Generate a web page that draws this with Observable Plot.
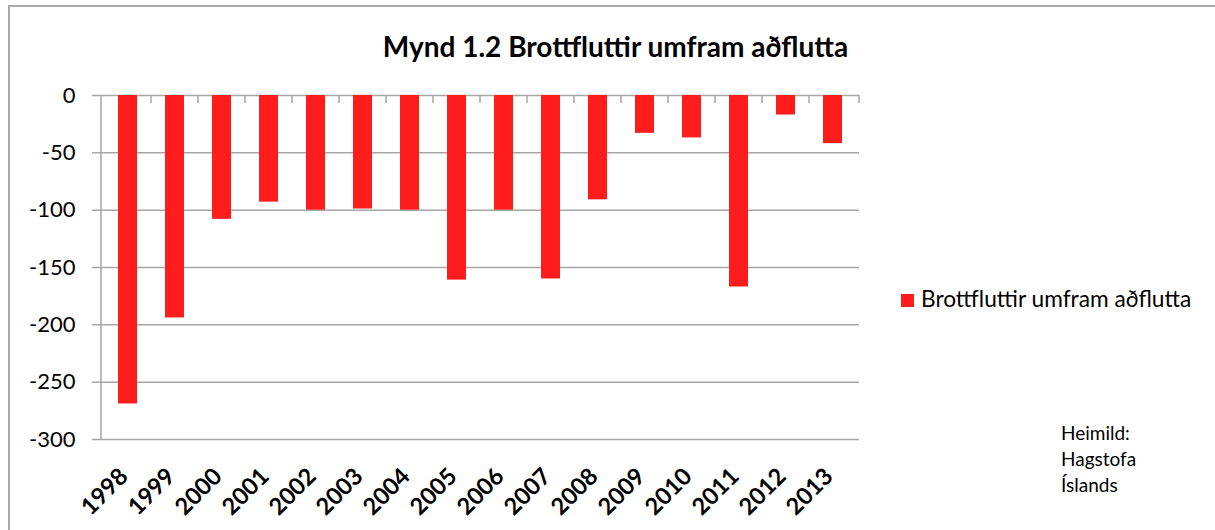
<!DOCTYPE html>
<html><head><meta charset="utf-8">
<script src="https://cdn.jsdelivr.net/npm/d3@7"></script>
<script src="https://cdn.jsdelivr.net/npm/@observablehq/plot@0.6"></script>
<style>
html,body{margin:0;padding:0;background:#fff;overflow:hidden;}
#wrap{position:relative;width:1215px;height:530px;font-family:Lato,"Open Sans",sans-serif;color:#000;}
#frame{position:absolute;left:8px;top:5px;width:1215px;height:530px;border:2px solid #a9a9a9;box-sizing:border-box;pointer-events:none;}
#chart{position:absolute;left:0;top:0;}
#title{position:absolute;top:31px;left:0;width:1231px;text-align:center;font-weight:bold;font-size:28px;line-height:30px;}
#legend{position:absolute;left:901px;top:285px;font-size:22.7px;line-height:28px;white-space:nowrap;}
#legend .sw{display:inline-block;width:13px;height:13px;background:#ff1c1c;margin-right:7px;vertical-align:0px;}
#caption{position:absolute;left:1061px;top:420px;font-size:19px;line-height:26px;}
</style></head>
<body>
<div id="wrap">
  <div id="chart"></div>
  <div id="title"></div>
  <div id="legend"><span class="sw"></span><span id="legtext"></span></div>
  <div id="caption"></div>
  <div id="frame"></div>
</div>
<script>
const years = ["1998","1999","2000","2001","2002","2003","2004","2005","2006","2007","2008","2009","2010","2011","2012","2013"];
const values = [-269,-194,-108,-93,-100,-99,-100,-161,-100,-160,-91,-33,-37,-167,-17,-42];
const yTicks = [0,-50,-100,-150,-200,-250,-300];
const titleText = "Mynd 1.2 Brottfluttir umfram aðflutta";
const seriesName = "Brottfluttir umfram aðflutta";
const captionLines = ["Heimild:","Hagstofa","Íslands"];
const barColor = "#ff1c1c";
const gridColor = "#a6a6a6";

const data = years.map((y,i)=>({year:y, value:values[i]}));

const chart = Plot.plot({
  width:1215, height:530,
  marginLeft:101, marginRight:356, marginTop:95, marginBottom:91,
  style:{fontFamily:'Lato,"Open Sans",sans-serif', background:"transparent"},
  x:{domain:years, paddingInner:0.6, paddingOuter:0.3, label:null},
  y:{domain:[-300,0], nice:false, label:null},
  marks:[
    Plot.gridY(yTicks,{stroke:gridColor, strokeOpacity:1, strokeWidth:1.5}),
    Plot.axisY(yTicks,{tickSize:9, tickPadding:17, fontSize:22, stroke:gridColor, strokeWidth:1.5, fill:"black", tickFormat:d=>d===0?"0":"-"+Math.abs(d), label:null}),
    Plot.barY(data,{x:"year", y:"value", fill:barColor}),
    Plot.axisX({anchor:"bottom", tickSize:0, tickPadding:33, tickRotate:-45, fontSize:23.5, fontWeight:"bold", fill:"black", dx:-4, label:null})
  ]
});
document.getElementById("chart").appendChild(chart);

// axis line and category boundary ticks drawn from Plot's scales
const xs = chart.scale("x"), ys = chart.scale("y");
const svg = d3.select(chart);
const y0 = ys.apply(0), yb = ys.apply(-300);
const centers = years.map(d=>xs.apply(d)+xs.bandwidth/2);
const bounds = [xs.range[0]];
for(let i=0;i<centers.length-1;i++) bounds.push((centers[i]+centers[i+1])/2);
bounds.push(xs.range[1]);
svg.append("line").attr("x1",xs.range[0]).attr("x2",xs.range[0]).attr("y1",y0).attr("y2",yb)
  .attr("stroke",gridColor).attr("stroke-width",1.5);
svg.append("g").selectAll("line").data(bounds.slice(1)).join("line")
  .attr("x1",d=>d).attr("x2",d=>d).attr("y1",y0).attr("y2",y0+8)
  .attr("stroke",gridColor).attr("stroke-width",1.5);

document.getElementById("title").textContent = titleText;
document.getElementById("legtext").textContent = seriesName;
document.getElementById("caption").innerHTML = captionLines.join("<br>");
</script>
</body></html>
